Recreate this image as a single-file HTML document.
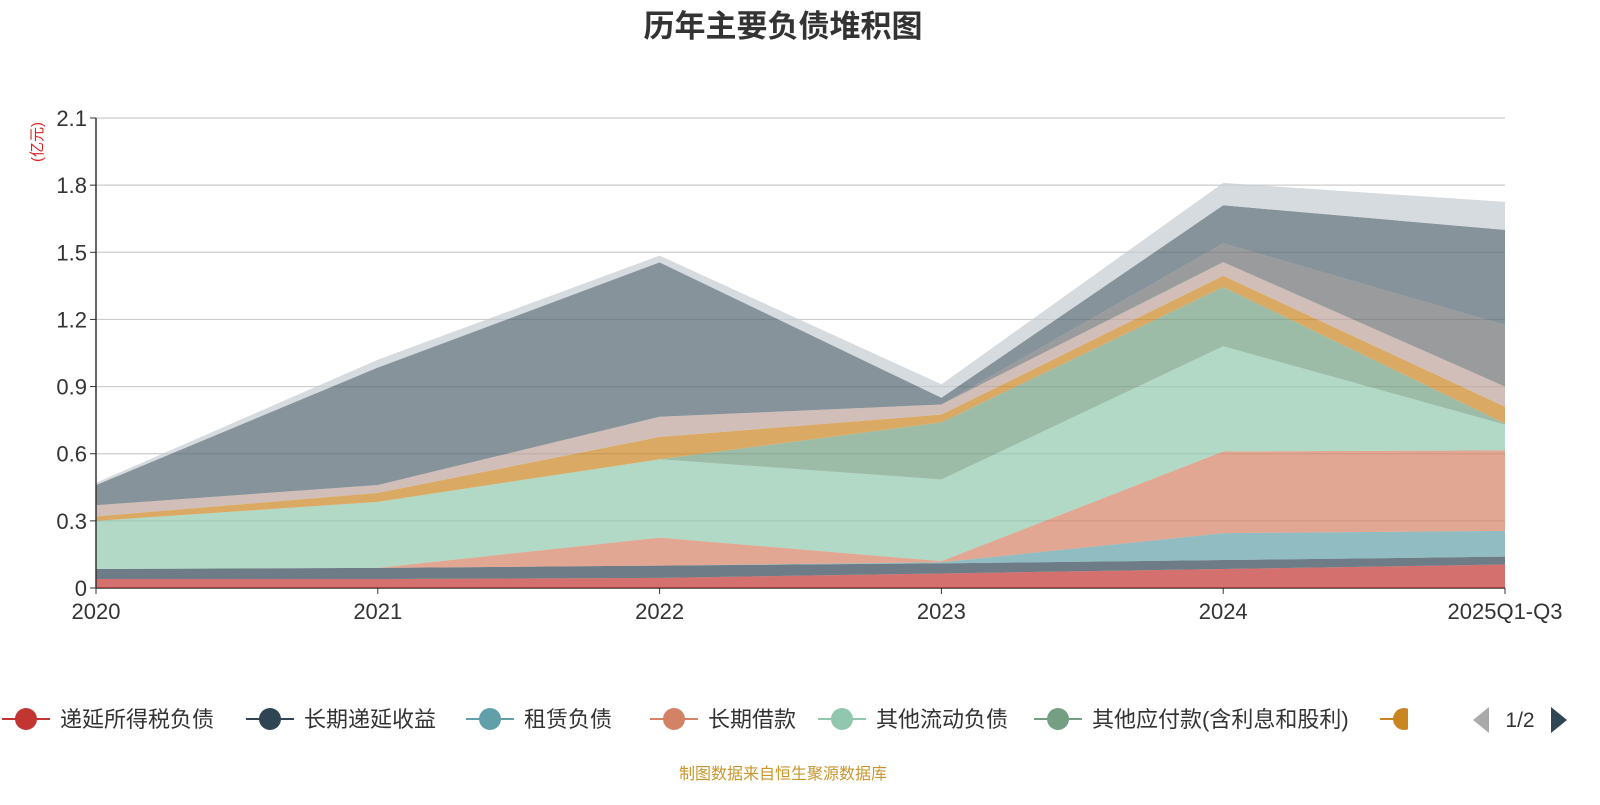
<!DOCTYPE html>
<html><head><meta charset="utf-8"><style>
body{margin:0;width:1600px;height:800px;background:#fff;overflow:hidden;font-family:"Liberation Sans","Noto Sans CJK SC",sans-serif;}
svg text{font-family:"Liberation Sans","Noto Sans CJK SC",sans-serif;}
</style></head><body>
<svg id="chart" width="1600" height="800">
<defs><clipPath id="legclip"><rect x="0" y="690" width="1408" height="60"/></clipPath></defs>
<text x="783" y="37" text-anchor="middle" font-size="31" font-weight="bold" fill="#333">历年主要负债堆积图</text>
<text transform="translate(42,142) rotate(-90)" text-anchor="middle" font-size="15" fill="#e02020">(亿元)</text>
<g id="grid"></g><g id="areas"></g><g id="axes"></g><g id="legend"><g id="legitems" clip-path="url(#legclip)"></g></g>
<text x="783" y="779" text-anchor="middle" font-size="16" fill="#c8962c">制图数据来自恒生聚源数据库</text>
</svg>
<script>
const categories=["2020","2021","2022","2023","2024","2025Q1-Q3"];
const seriesNames=["递延所得税负债","长期递延收益","租赁负债","长期借款","其他流动负债","其他应付款(含利息和股利)","应付职工薪酬","应交税费","合同负债","应付账款","短期借款"];
const s1=[0.04,0.04,0.045,0.065,0.085,0.105];
const s2=[0.045,0.05,0.055,0.045,0.04,0.035];
const s3=[0,0,0,0.005,0.12,0.115];
const s4=[0,0,0.125,0.005,0.365,0.36];
const s5=[0.215,0.295,0.35,0.365,0.47,0.115];
const s6=[0,0,0,0.255,0.265,0.005];
const s7=[0.02,0.04,0.1,0.035,0.05,0.075];
const s8=[0.05,0.035,0.09,0.045,0.061,0.09];
const s9=[0,0,0,0,0.084,0.275];
const s10=[0.09,0.525,0.69,0.03,0.17,0.425];
const s11=[0.01,0.035,0.03,0.06,0.1,0.125];
const yTicks=[0,0.3,0.6,0.9,1.2,1.5,1.8,2.1];
const series=[s1,s2,s3,s4,s5,s6,s7,s8,s9,s10,s11];
const colors=["#c23531","#2f4554","#61a0a8","#d48265","#91c7ae","#749f83","#ca8622","#bda29a","#6e7074","#546570","#c4ccd3"];
const NS="http://www.w3.org/2000/svg";
const X0=96,X1=1505,Y0=588,Y1=118,YMAX=2.1;
const xs=i=>X0+(X1-X0)*i/(categories.length-1);
const ys=v=>Y0-(Y0-Y1)*v/YMAX;
function mk(tag,attrs,parent){const e=document.createElementNS(NS,tag);for(const k in attrs)e.setAttribute(k,attrs[k]);parent.appendChild(e);return e;}
const grid=document.getElementById('grid'),areas=document.getElementById('areas'),axes=document.getElementById('axes'),legend=document.getElementById('legend'),legitems=document.getElementById('legitems');
yTicks.forEach(t=>{
 const l=mk('line',{x1:X0,x2:X1,y1:ys(t),y2:ys(t),stroke:t===0?'#333':'#ccc','stroke-width':t===0?1.5:1.2},grid);
 
 
 const tk=mk('line',{x1:X0-6,x2:X0,y1:ys(t),y2:ys(t),stroke:'#333'},axes);
 
 
 const tx=mk('text',{x:X0-9,y:ys(t)+8,'text-anchor':'end','font-size':22,fill:'#333'},axes);
 tx.textContent=t===0?'0':t.toFixed(1);
 
 
});
const ya=mk('line',{x1:X0,x2:X0,y1:Y1,y2:Y0,stroke:'#333','stroke-width':1.5},axes);


categories.forEach((c,i)=>{
 const tk=mk('line',{x1:xs(i),x2:xs(i),y1:Y0,y2:Y0+6,stroke:'#333'},axes);
 
 
 const tx=mk('text',{x:xs(i),y:Y0+31,'text-anchor':'middle','font-size':22,fill:'#333'},axes);
 tx.textContent=c;
 
 
});
let base=categories.map(()=>0);
series.forEach((s,k)=>{
 const top=base.map((b,i)=>b+s[i]);
 let pts=top.map((v,i)=>xs(i)+','+ys(v));
 for(let i=base.length-1;i>=0;i--)pts.push(xs(i)+','+ys(base[i]));
 const p=mk('polygon',{points:pts.join(' '),fill:colors[k],'fill-opacity':0.7},areas);
 
 
 base=top;
});
const lx=[2,246,466,650,818,1034,1380];
for(let k=0;k<7;k++){
 const g=mk('g',{},legitems);
 
 
 mk('line',{x1:lx[k],x2:lx[k]+48,y1:719,y2:719,stroke:colors[k],'stroke-width':2},g);
 mk('circle',{cx:lx[k]+24,cy:719,r:11,fill:colors[k]},g);
 const t=mk('text',{x:lx[k]+58,y:727,'font-size':22,fill:'#333'},g);
 t.textContent=seriesNames[k];
}
const pl=mk('polygon',{points:'1489,707 1489,733 1473,720',fill:'#aaa'},legend);


const pt=mk('text',{x:1520,y:727,'font-size':21,fill:'#333','text-anchor':'middle'},legend);
pt.textContent='1/2';


const pn=mk('polygon',{points:'1551,707 1551,733 1567,720',fill:'#2f4554'},legend);


</script>
</body></html>
